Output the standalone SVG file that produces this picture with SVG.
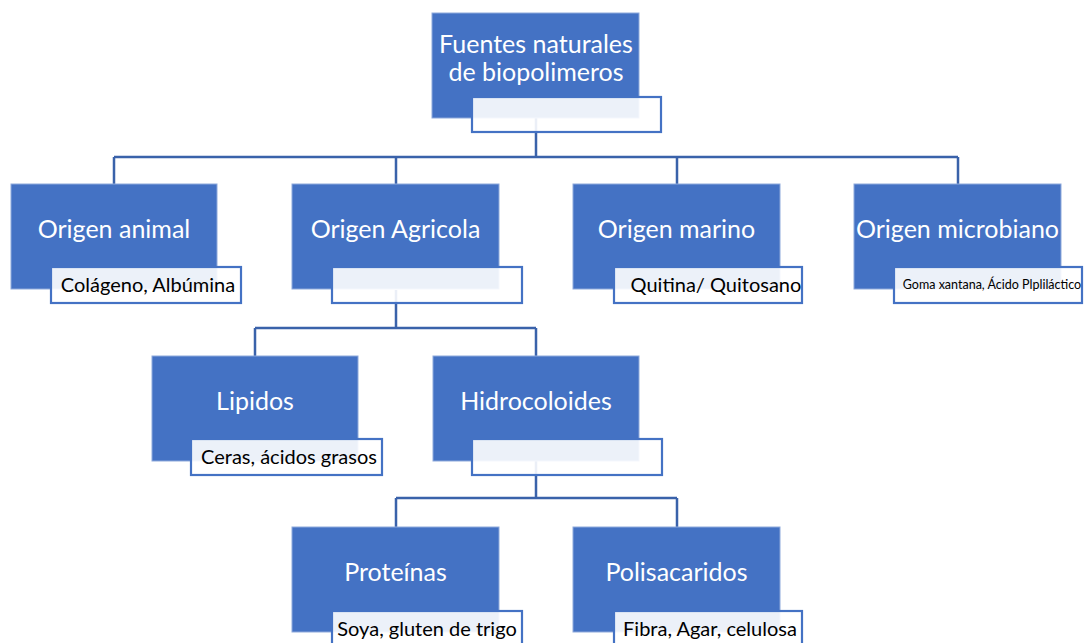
<svg xmlns="http://www.w3.org/2000/svg" width="1084" height="643" viewBox="0 0 1084 643">
<style>
.bg{fill:#ffffff}
.main{fill:#4472C4;stroke:#8EA9DB;stroke-width:1}
.sub{fill:#ffffff;fill-opacity:0.9;stroke:#4472C4;stroke-width:2.2}
.conn{fill:none;stroke:#3A62AA;stroke-width:2.5}
.t{font-family:Lato,"Open Sans","Liberation Sans",sans-serif;fill:#ffffff;font-size:25px;text-anchor:middle}
.s{font-family:Lato,"Open Sans","Liberation Sans",sans-serif;fill:#000000;font-size:20px;text-anchor:middle}
.xs{font-size:12.5px}
</style>
<rect class="bg" x="0" y="0" width="1084" height="643"/>
<g id="connectors">
<path class="conn" d="M536,118 V157 M114,157 H958 M114,157 V184 M396,157 V184 M677,157 V184 M958,157 V184"/>
<path class="conn" d="M396,290 V328 M255,328 H536 M255,328 V356 M536,328 V356"/>
<path class="conn" d="M536,461 V498 M396,498 H677 M396,498 V527 M677,498 V527"/>
</g>
<g id="n-root">
<rect class="main" x="432" y="13" width="207" height="105"/>
<text class="t" x="536" y="53">Fuentes naturales</text>
<text class="t" x="536" y="81">de biopolimeros</text>
<rect class="sub" x="472" y="97" width="189" height="35"/>
</g>
<g id="n-animal">
<rect class="main" x="11" y="184" width="206" height="105"/>
<text class="t" x="114" y="238">Origen animal</text>
<rect class="sub" x="51" y="267" width="190" height="36"/>
<text class="s" x="148" y="292">Colágeno, Albúmina</text>
</g>
<g id="n-agricola">
<rect class="main" x="292" y="184" width="207" height="105"/>
<text class="t" x="395.5" y="238">Origen Agricola</text>
<rect class="sub" x="332" y="267" width="190" height="36"/>
</g>
<g id="n-marino">
<rect class="main" x="573" y="184" width="207" height="105"/>
<text class="t" x="676.5" y="238">Origen marino</text>
<rect class="sub" x="614" y="267" width="188" height="36"/>
<text class="s" x="716" y="292">Quitina/ Quitosano</text>
</g>
<g id="n-microbiano">
<rect class="main" x="854" y="184" width="207" height="105"/>
<text class="t" x="957.5" y="238">Origen microbiano</text>
<rect class="sub" x="894" y="267" width="188" height="36"/>
<text class="s xs" x="992" y="289">Goma xantana, Ácido Plpliláctico</text>
</g>
<g id="n-lipidos">
<rect class="main" x="152" y="356" width="206" height="105"/>
<text class="t" x="255" y="410">Lipidos</text>
<rect class="sub" x="191" y="439" width="191" height="36"/>
<text class="s" x="289" y="464">Ceras, ácidos grasos</text>
</g>
<g id="n-hidrocoloides">
<rect class="main" x="433" y="356" width="206" height="105"/>
<text class="t" x="536" y="410">Hidrocoloides</text>
<rect class="sub" x="472" y="439" width="190" height="36"/>
</g>
<g id="n-proteinas">
<rect class="main" x="292" y="527" width="207" height="105"/>
<text class="t" x="395.5" y="581">Proteínas</text>
<rect class="sub" x="332" y="611" width="190" height="40"/>
<text class="s" x="427" y="636">Soya, gluten de trigo</text>
</g>
<g id="n-polisacaridos">
<rect class="main" x="573" y="527" width="207" height="105"/>
<text class="t" x="676.5" y="581">Polisacaridos</text>
<rect class="sub" x="614" y="611" width="188" height="40"/>
<text class="s" x="710" y="636">Fibra, Agar, celulosa</text>
</g>
</svg>
